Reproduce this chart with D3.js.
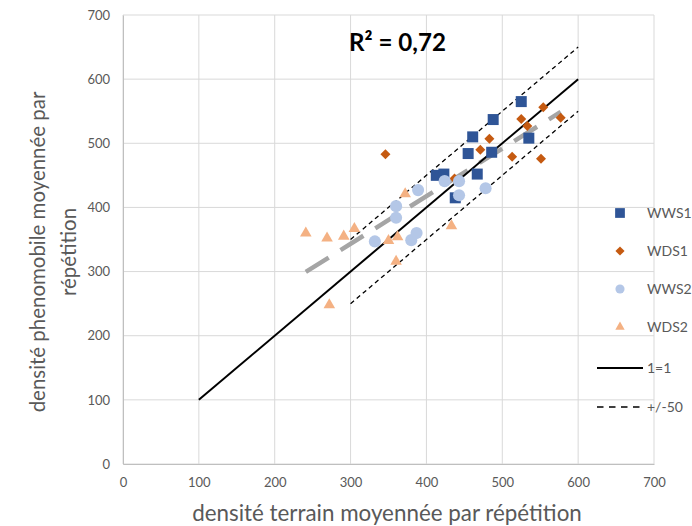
<!DOCTYPE html>
<html>
<head>
<meta charset="utf-8">
<script src="https://cdn.jsdelivr.net/npm/d3@7"></script>
<style>
  html, body { margin: 0; padding: 0; background: #fff; }
  svg { display: block; font-family: Lato, "Open Sans", sans-serif; }
</style>
</head>
<body>
<svg id="chart" width="692" height="526"></svg>
<script>
// Field density (x) vs. phenomobile density (y), averaged per repetition
const seriesNames = ["WWS1", "WDS1", "WWS2", "WDS2"];
const wws1X = [525, 488, 461, 455, 486, 535, 413, 423, 467, 438];
const wws1Y = [565, 537, 510, 484, 486, 508, 450, 452, 452, 415];
const wds1X = [346, 554, 525, 533, 577, 483, 471, 513, 551, 437];
const wds1Y = [483, 556, 538, 527, 540, 507, 490, 479, 476, 445];
const wws2X = [389, 360, 360, 332, 380, 387, 424, 443, 443, 478];
const wws2Y = [427, 402, 384, 347, 349, 360, 441, 441, 419, 430];
const wds2X = [241, 269, 291, 305, 372, 350, 362, 360, 433, 272];
const wds2Y = [360, 352, 355, 367, 421, 348, 354, 316, 371, 248];
const axisTicks = [0, 100, 200, 300, 400, 500, 600, 700];
const identityRange = [100, 600];
const bandRange = [300, 600];
const bandOffset = 50;
const r2Label = "R² = 0,72";
const xTitle = "densité terrain moyennée par répétition";
const yTitleLines = ["densité phenomobile moyennée par", "répétition"];
const lineLegend = ["1=1", "+/-50"];

const colors = { WWS1: "#2F5597", WDS1: "#C55A11", WWS2: "#B4C7E7", WDS2: "#F4B183" };
// diamonds are squares turned by 45 degrees
const symbols = { WWS1: d3.symbolSquare, WDS1: d3.symbolSquare, WWS2: d3.symbolCircle, WDS2: d3.symbolTriangle };
const rotations = { WWS1: 0, WDS1: 45, WWS2: 0, WDS2: 0 };
const sizes = { WWS1: 121, WDS1: 50, WWS2: 115, WDS2: 58 };
const legendSizes = { WWS1: 95, WDS1: 42, WWS2: 66, WDS2: 38 };

const series = [
  { name: "WWS1", xs: wws1X, ys: wws1Y },
  { name: "WDS1", xs: wds1X, ys: wds1Y },
  { name: "WWS2", xs: wws2X, ys: wws2Y },
  { name: "WDS2", xs: wds2X, ys: wds2Y }
];

const svg = d3.select("#chart");
const x = d3.scaleLinear().domain([0, 700]).range([123, 654]);
const y = d3.scaleLinear().domain([0, 700]).range([464, 15]);
const gridColor = "#D9D9D9";
const textColor = "#595959";

// size a text element so that it spans the given width
function fitWidth(sel, width) {
  const base = 20;
  sel.attr("font-size", base);
  const w = sel.node().getComputedTextLength();
  sel.attr("font-size", base * width / w);
  return base * width / w;
}

// gridlines
const grid = svg.append("g");
grid.selectAll("line.v").data(axisTicks).join("line")
  .attr("class", "v")
  .attr("x1", d => x(d)).attr("x2", d => x(d))
  .attr("y1", y(0)).attr("y2", y(700))
  .attr("stroke", gridColor).attr("stroke-width", 1);
grid.selectAll("line.h").data(axisTicks).join("line")
  .attr("class", "h")
  .attr("x1", x(0)).attr("x2", x(700))
  .attr("y1", d => y(d)).attr("y2", d => y(d))
  .attr("stroke", gridColor).attr("stroke-width", 1);

// axes with tick labels only
const xAxis = svg.append("g").attr("transform", `translate(0,${y(0)})`)
  .call(d3.axisBottom(x).tickValues(axisTicks).tickSize(0).tickPadding(14));
const yAxis = svg.append("g").attr("transform", `translate(${x(0)},0)`)
  .call(d3.axisLeft(y).tickValues(axisTicks).tickSize(0).tickPadding(13));
[xAxis, yAxis].forEach(a => {
  a.select(".domain").attr("stroke", "#BFBFBF").attr("stroke-width", 1);
  a.selectAll("text").attr("fill", textColor).attr("font-size", 13)
    .attr("font-family", "Lato, sans-serif");
});

// all points pooled for the linear trend
const pooled = series.flatMap(s => s.xs.map((v, i) => [v, s.ys[i]]));
const mx = d3.mean(pooled, d => d[0]), my = d3.mean(pooled, d => d[1]);
const slope = d3.sum(pooled, d => (d[0] - mx) * (d[1] - my)) / d3.sum(pooled, d => (d[0] - mx) ** 2);
const intercept = my - slope * mx;
const [tx0, tx1] = d3.extent(pooled, d => d[0]);
const line = d3.line().x(d => x(d[0])).y(d => y(d[1]));

// trend line
svg.append("path")
  .attr("d", line([[tx0, intercept + slope * tx0], [tx1, intercept + slope * tx1]]))
  .attr("stroke", "#A5A5A5").attr("stroke-width", 4.5).attr("fill", "none")
  .attr("stroke-dasharray", "27,14");

// +/-50 band
[bandOffset, -bandOffset].forEach(off => {
  svg.append("path")
    .attr("d", line(bandRange.map(v => [v, v + off])))
    .attr("stroke", "#000").attr("stroke-width", 1.3).attr("fill", "none")
    .attr("stroke-dasharray", "4.5,3.5");
});

// 1:1 line
svg.append("path")
  .attr("d", line(identityRange.map(v => [v, v])))
  .attr("stroke", "#000").attr("stroke-width", 2).attr("fill", "none");

// markers
series.forEach(s => {
  svg.append("g").selectAll("path").data(s.xs.map((v, i) => [v, s.ys[i]])).join("path")
    .attr("d", d3.symbol().type(symbols[s.name]).size(sizes[s.name]))
    .attr("transform", d => `translate(${x(d[0])},${y(d[1])}) rotate(${rotations[s.name]})`)
    .attr("fill", colors[s.name]);
});

// R² label
const r2 = svg.append("text").attr("x", 349).attr("y", 51)
  .attr("font-weight", "bold").attr("fill", "#000").text(r2Label);
fitWidth(r2, 97);

// axis titles
const xt = svg.append("text").attr("x", 387).attr("y", 521).attr("text-anchor", "middle")
  .attr("fill", textColor).text(xTitle);
fitWidth(xt, 390);
const yt = svg.append("text").attr("transform", "translate(45,252) rotate(-90)")
  .attr("text-anchor", "middle").attr("fill", textColor);
const spans = yTitleLines.map((t, i) => yt.append("tspan").attr("x", 0).attr("dy", i === 0 ? 0 : 31).text(t));
yt.attr("font-size", 20);
const yw = spans[0].node().getComputedTextLength();
yt.attr("font-size", 20 * 321 / yw);

// legend
const legend = svg.append("g");
const legendY = [213, 251, 289, 327];
seriesNames.forEach((n, i) => {
  legend.append("path").attr("d", d3.symbol().type(symbols[n]).size(legendSizes[n]))
    .attr("transform", `translate(620,${legendY[i]}) rotate(${rotations[n]})`).attr("fill", colors[n]);
  legend.append("text").attr("x", 647).attr("y", legendY[i] + 5)
    .attr("font-size", 14).attr("fill", textColor).text(n);
});
const lineY = [368, 407];
lineLegend.forEach((t, i) => {
  legend.append("line").attr("x1", 597).attr("x2", 643).attr("y1", lineY[i]).attr("y2", lineY[i])
    .attr("stroke", "#000").attr("stroke-width", i === 0 ? 2 : 1.3)
    .attr("stroke-dasharray", i === 0 ? null : "6.5,5.5");
  legend.append("text").attr("x", 647).attr("y", lineY[i] + 5)
    .attr("font-size", 14).attr("fill", textColor).text(t);
});
</script>
</body>
</html>
